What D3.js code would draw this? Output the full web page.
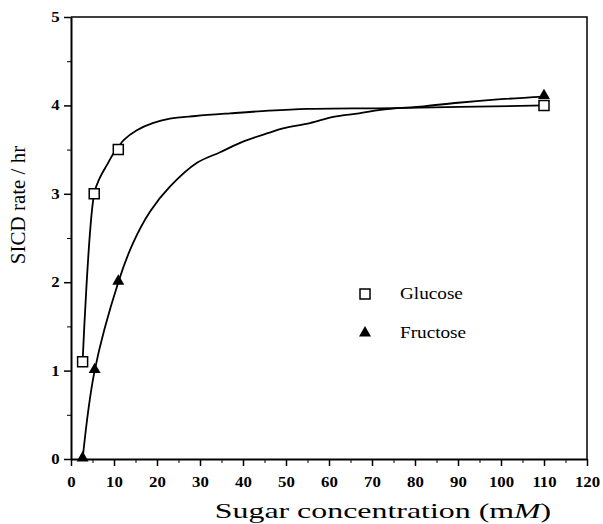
<!DOCTYPE html>
<html>
<head>
<meta charset="utf-8">
<script src="https://cdn.jsdelivr.net/npm/d3@7"></script>
<style>
  body { margin: 0; background: #fff; }
  svg { display: block; }
  text { font-family: "Liberation Serif", "Times New Roman", serif; fill: #000; }
</style>
</head>
<body>
<svg id="chart" width="603" height="524"></svg>
<script>
// measured points (sugar concentration mM, SICD rate / hr)
const glucoseX = [2.7, 5.4, 11, 110];
const glucoseY = [1.1, 3.0, 3.5, 4.0];
const fructoseX = [2.7, 5.5, 11, 110];
const fructoseY = [0, 1.0, 2.0, 4.1];

// fitted curves
const glucoseFitX = [2.7, 5.4, 6.7, 8.4, 9.8, 11, 12.3, 15.3, 19, 23, 29, 37, 46, 55, 75, 110];
const glucoseFitY = [1.1, 3.0, 3.18, 3.33, 3.45, 3.53, 3.61, 3.72, 3.8, 3.85, 3.88, 3.91, 3.94, 3.96, 3.97, 4.0];
const fructoseFitX = [2.7, 5.5, 11, 14.4, 18.4, 23, 29.3, 34.7, 40, 46, 49.3, 55.6, 61, 67, 72, 82, 90, 100, 110];
const fructoseFitY = [0, 1.0, 2.0, 2.44, 2.8, 3.08, 3.35, 3.47, 3.59, 3.69, 3.74, 3.8, 3.87, 3.91, 3.95, 3.99, 4.03, 4.07, 4.1];

const xTicks = [0, 10, 20, 30, 40, 50, 60, 70, 80, 90, 100, 110, 120];
const yTicks = [0, 1, 2, 3, 4, 5];
const legendLabels = ['Glucose', 'Fructose'];

const svg = d3.select('#chart');
const m = {left: 71, right: 587, top: 17, bottom: 459};

const x = d3.scaleLinear().domain([0, 120]).range([m.left, m.right]);
const y = d3.scaleLinear().domain([0, 5]).range([m.bottom, m.top]);

// frame (top and right)
svg.append('path')
  .attr('d', `M${m.left},${m.top}H${m.right}V${m.bottom}`)
  .attr('fill', 'none')
  .attr('stroke', '#000')
  .attr('stroke-width', 1.5);

// minor ticks
svg.append('g')
  .attr('transform', `translate(0,${m.bottom})`)
  .call(d3.axisBottom(x).tickValues(d3.range(5, 120, 10)).tickSize(4).tickFormat(''))
  .call(g => g.select('.domain').remove());
svg.append('g')
  .attr('transform', `translate(${m.left},0)`)
  .call(d3.axisLeft(y).tickValues(d3.range(0.5, 5, 1)).tickSize(4).tickFormat(''))
  .call(g => g.select('.domain').remove());

// major axes
const xAxis = svg.append('g')
  .attr('transform', `translate(0,${m.bottom})`)
  .call(d3.axisBottom(x).tickValues(xTicks).tickFormat(d3.format('d'))
    .tickSize(7).tickPadding(11).tickSizeOuter(0));
const yAxis = svg.append('g')
  .attr('transform', `translate(${m.left},0)`)
  .call(d3.axisLeft(y).tickValues(yTicks).tickFormat(d3.format('d'))
    .tickSize(7).tickPadding(4).tickSizeOuter(0));

[xAxis, yAxis].forEach(g => {
  g.attr('font-family', null).attr('font-size', null);
  g.select('.domain').attr('stroke-width', 2);
  g.selectAll('.tick line').attr('stroke-width', 1.5);
  g.selectAll('.tick text')
    .style('font-family', '"Liberation Serif", serif')
    .style('font-weight', 'bold')
    .style('font-size', '14px');
});
xAxis.selectAll('.tick text').attr('transform', 'scale(1.2,1)');
yAxis.selectAll('.tick text').attr('transform', 'scale(1.2,1)').attr('x', -9.5);
svg.selectAll('.tick line').attr('stroke', '#000');

// fitted curves
const line = d3.line().x(d => x(d[0])).y(d => y(d[1])).curve(d3.curveCatmullRom.alpha(0.5));
svg.append('path')
  .datum(d3.zip(glucoseFitX, glucoseFitY))
  .attr('d', line)
  .attr('fill', 'none').attr('stroke', '#000').attr('stroke-width', 1.8);
svg.append('path')
  .datum(d3.zip(fructoseFitX, fructoseFitY))
  .attr('d', line)
  .attr('fill', 'none').attr('stroke', '#000').attr('stroke-width', 1.8);

// markers
const square = d3.symbol().type(d3.symbolSquare).size(100);
const tri = d3.symbol().type(d3.symbolTriangle).size(62);

svg.append('g').selectAll('path')
  .data(d3.zip(glucoseX, glucoseY))
  .join('path')
    .attr('d', square)
    .attr('transform', d => `translate(${x(d[0])},${y(d[1])})`)
    .attr('fill', '#fff').attr('stroke', '#000').attr('stroke-width', 1.5);
svg.append('g').selectAll('path')
  .data(d3.zip(fructoseX, fructoseY))
  .join('path')
    .attr('d', tri)
    .attr('transform', d => `translate(${x(d[0])},${y(d[1]) - 1})`)
    .attr('fill', '#000');

// legend
const legend = svg.append('g');
const legY = [294, 333];
legend.append('path').attr('d', square)
  .attr('transform', `translate(365,${legY[0]})`)
  .attr('fill', '#fff').attr('stroke', '#000').attr('stroke-width', 1.5);
legend.append('path').attr('d', tri)
  .attr('transform', `translate(365,${legY[1]})`)
  .attr('fill', '#000');
legendLabels.forEach((t, i) => {
  legend.append('text')
    .attr('transform', `translate(400,${legY[i] + 5}) scale(1.2,1)`)
    .style('font-size', '16px')
    .text(t);
});

// axis titles
const xt = svg.append('text')
  .attr('transform', 'translate(383,518) scale(1.45,1)')
  .attr('text-anchor', 'middle')
  .style('font-size', '22px');
xt.append('tspan').text('Sugar concentration (m');
xt.append('tspan').style('font-style', 'italic').text('M');
xt.append('tspan').text(')');

svg.append('text')
  .attr('transform', 'translate(25,205) rotate(-90)')
  .attr('text-anchor', 'middle')
  .style('font-size', '21px')
  .text('SICD rate / hr');
</script>
</body>
</html>
